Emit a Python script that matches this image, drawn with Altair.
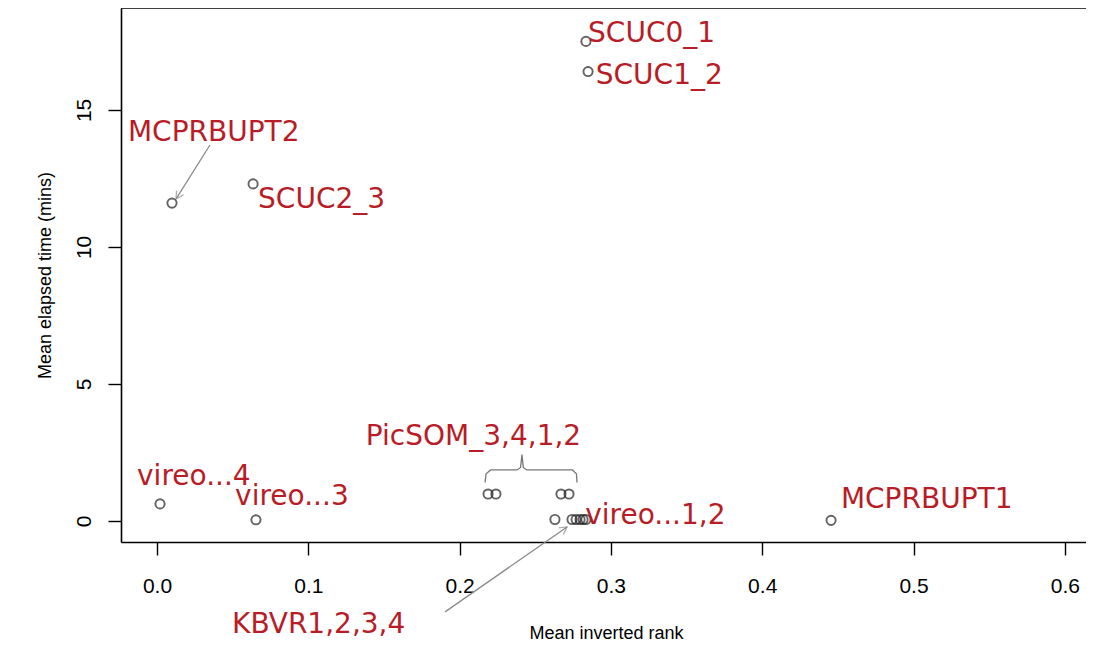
import altair as alt
import pandas as pd

# ---- data ----
run_names = ["SCUC0_1", "SCUC1_2", "SCUC2_3", "MCPRBUPT2", "vireo...4", "vireo...3",
             "PicSOM_3", "PicSOM_4", "PicSOM_1", "PicSOM_2",
             "KBVR1", "KBVR2", "KBVR3", "KBVR4", "vireo...1", "vireo...2", "MCPRBUPT1"]
mean_inv_rank = [0.2835, 0.2849, 0.0635, 0.0099, 0.002, 0.0654,
                 0.2188, 0.224, 0.267, 0.2723,
                 0.263, 0.2743, 0.277, 0.2796, 0.2816, 0.2835, 0.4455]
mean_time = [17.5, 16.4, 12.3, 11.6, 0.62, 0.04,
             0.98, 0.98, 0.98, 0.98,
             0.05, 0.05, 0.05, 0.05, 0.05, 0.05, 0.02]

label_text = ["SCUC0_1", "SCUC1_2", "MCPRBUPT2", "SCUC2_3", "PicSOM_3,4,1,2",
              "vireo...4", "vireo...3", "vireo...1,2", "MCPRBUPT1", "KBVR1,2,3,4"]
label_x = [0.2849, 0.290, -0.0192, 0.0668, 0.138, -0.0132, 0.0516, 0.283, 0.452, 0.0496]
label_y = [17.77, 16.24, 14.16, 11.72, 3.07, 1.61, 0.88, 0.18, 0.77, -3.80]

# arrows (start -> end) in data units
arrow_id = ["a1", "a1", "a2", "a2"]
arrow_order = [0, 1, 0, 1]
arrow_x = [0.035, 0.0126, 0.1904, 0.271]
arrow_y = [13.72, 11.75, -3.32, -0.22]
head_x = [0.0126, 0.271]
head_y = [11.75, -0.22]
head_angle = [212, 55]

# brace over the PicSOM runs
brace_x = [0.2168, 0.2175, 0.2205, 0.2380, 0.2403, 0.2412, 0.2421, 0.2444, 0.2745, 0.2772, 0.2776]
brace_y = [1.40, 1.72, 1.86, 1.86, 1.95, 2.42, 1.95, 1.86, 1.86, 1.72, 1.40]

tick_x = [0.0, 0.1, 0.2, 0.3, 0.4, 0.5, 0.6]
tick_y = [0, 5, 10, 15]

W, H = 965, 534
RED = "#B81D27"
AXFONT = "Liberation Sans Narrow, Arial Narrow, Liberation Sans, sans-serif"

xs = alt.Scale(domain=[-0.0238, 0.614], nice=False, zero=False)
ys = alt.Scale(domain=[-0.77, 18.72], nice=False, zero=False)

x_axis = alt.Axis(values=tick_x, format=".1f", grid=False,
                  tickSize=13, tickColor="black", tickWidth=1.4,
                  domainColor="black", domainWidth=1.6,
                  labelFont=AXFONT, labelFontSize=21, labelColor="black", labelPadding=20,
                  title="Mean inverted rank", titleFont=AXFONT, titleFontSize=18,
                  titleFontWeight="normal", titleColor="black",
                  titleX=485, titleY=91, titleBaseline="middle", titleAlign="center")
y_axis = alt.Axis(values=tick_y, format="d", grid=False,
                  tickSize=13, tickColor="black", tickWidth=1.4,
                  domainColor="black", domainWidth=1.6,
                  labelFont=AXFONT, labelFontSize=21, labelColor="black",
                  labelAngle=270, labelAlign="center", labelBaseline="bottom", labelPadding=14,
                  title="Mean elapsed time (mins)", titleFont=AXFONT, titleFontSize=18,
                  titleFontWeight="normal", titleColor="black", titleAngle=270,
                  titleX=-76, titleY=H / 2, titleBaseline="middle", titleAlign="center")

pts = pd.DataFrame({"name": run_names, "x": mean_inv_rank, "y": mean_time})
labs = pd.DataFrame({"t": label_text, "x": label_x, "y": label_y})
arr = pd.DataFrame({"g": arrow_id, "o": arrow_order, "x": arrow_x, "y": arrow_y})
heads = pd.DataFrame({"x": head_x, "y": head_y, "a": head_angle})
brace = pd.DataFrame({"x": brace_x, "y": brace_y, "o": list(range(len(brace_x)))})

points = alt.Chart(pts).mark_point(shape="circle", filled=False, size=85,
                                   stroke="#222222", strokeWidth=1.9).encode(
    x=alt.X("x:Q", scale=xs, axis=x_axis),
    y=alt.Y("y:Q", scale=ys, axis=y_axis),
)

labels = alt.Chart(labs).mark_text(align="left", baseline="middle", font="DejaVu Sans",
                                   fontSize=28, color=RED).encode(
    x=alt.X("x:Q", scale=xs), y=alt.Y("y:Q", scale=ys), text="t:N")

arrows = alt.Chart(arr).mark_line(color="#8a8a8a", strokeWidth=1.3).encode(
    x=alt.X("x:Q", scale=xs), y=alt.Y("y:Q", scale=ys), detail="g:N", order="o:Q")

arrowheads = alt.Chart(heads).mark_point(shape="M-0.55,1L0,0L0.55,1", filled=False,
                                         size=220, stroke="#8a8a8a", strokeWidth=1.3).encode(
    x=alt.X("x:Q", scale=xs), y=alt.Y("y:Q", scale=ys),
    angle=alt.Angle("a:Q", scale=None))

brace_line = alt.Chart(brace).mark_line(color="#777777", strokeWidth=1.3).encode(
    x=alt.X("x:Q", scale=xs), y=alt.Y("y:Q", scale=ys), order="o:Q")

top_line = alt.Chart(pd.DataFrame({"k": [0]})).mark_rule(color="black", strokeWidth=1.6).encode(
    x=alt.value(0), x2=alt.value(W), y=alt.value(0))

chart = alt.layer(top_line, brace_line, arrows, arrowheads, points, labels).properties(
    width=W, height=H,
    autosize=alt.AutoSizeParams(type="none"),
    padding={"left": 113, "top": 0, "right": 0, "bottom": 105},
    background="white",
).configure_view(stroke=None)

chart.save("out.html", embed_options={"renderer": "svg", "actions": False})
